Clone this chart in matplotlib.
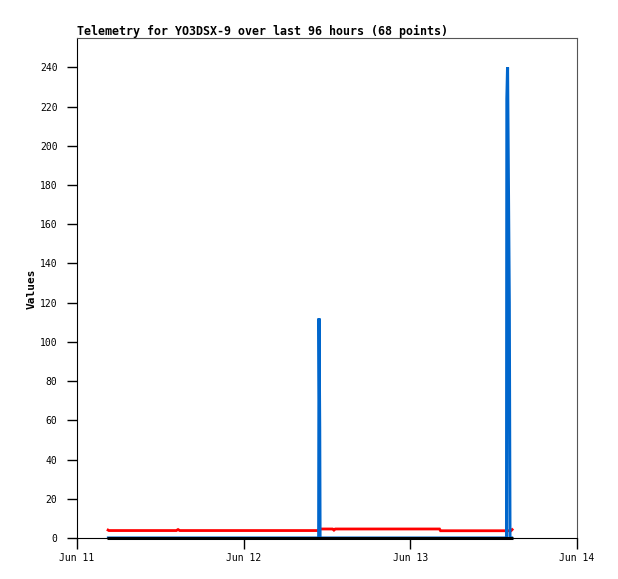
import matplotlib
matplotlib.use("Agg")
import matplotlib.pyplot as plt
import matplotlib.dates as mdates
from datetime import datetime, timedelta

base = datetime(2023, 6, 11)

# hours since Jun 11 00:00
red_hours = [4.3, 4.6, 14.3, 14.55, 14.8, 34.7, 34.9, 36.8, 37.0, 37.2, 52.2, 52.35, 62.5, 62.8]
red_vals = [4.4, 3.8, 3.8, 4.3, 3.8, 3.8, 4.6, 4.6, 4.0, 4.6, 4.6, 3.7, 3.7, 4.8]

blue_hours = [4.3, 34.8, 34.85, 34.95, 35.0, 61.85, 61.9, 62.0, 62.25, 62.35, 62.8]
blue_vals = [0, 0, 112, 56, 0, 0, 224, 240, 120, 0, 0]

black_hours = [4.3, 62.8]
black_vals = [0, 0]

title = "Telemetry for YO3DSX-9 over last 96 hours (68 points)"
ylabel = "Values"
yticks = list(range(0, 241, 20))

def to_dt(hs):
    return [base + timedelta(hours=h) for h in hs]

fig = plt.figure(figsize=(6.18, 5.79), dpi=100)
ax = fig.add_axes([77/618, 1-538/579, 500/618, 500/579])

mono = "DejaVu Sans Mono"
ax.plot(to_dt(red_hours), red_vals, color="#ff0000", lw=2, zorder=3,
        solid_capstyle="butt", solid_joinstyle="miter")
ax.plot(to_dt(blue_hours), blue_vals, color="#0066cc", lw=2.2, zorder=4,
        solid_capstyle="butt", solid_joinstyle="miter")
ax.plot(to_dt(black_hours), black_vals, color="#000000", lw=2.2, zorder=5,
        clip_on=False, solid_capstyle="butt")

ax.set_xlim(base, base + timedelta(days=3))
ax.set_ylim(0, 255)
ax.set_yticks(yticks)
ax.xaxis.set_major_locator(mdates.DayLocator())
ax.xaxis.set_major_formatter(mdates.DateFormatter("%b %d"))

ax.tick_params(axis="y", direction="out", length=7, width=1, pad=7, labelsize=7)
ax.tick_params(axis="x", direction="out", length=8, width=1, pad=3, labelsize=7)
for lab in ax.get_xticklabels() + ax.get_yticklabels():
    lab.set_family(mono)

for s in ["left", "bottom"]:
    ax.spines[s].set_color("black")
for s in ["top", "right"]:
    ax.spines[s].set_color("#555555")

ax.set_title(title, loc="left", fontsize=8.4, fontweight="bold", family=mono, pad=2)
ax.set_ylabel(ylabel, fontsize=8, fontweight="bold", family=mono)
ax.yaxis.set_label_coords(-0.08, 0.498)

fig.savefig("out.png", dpi=100)
